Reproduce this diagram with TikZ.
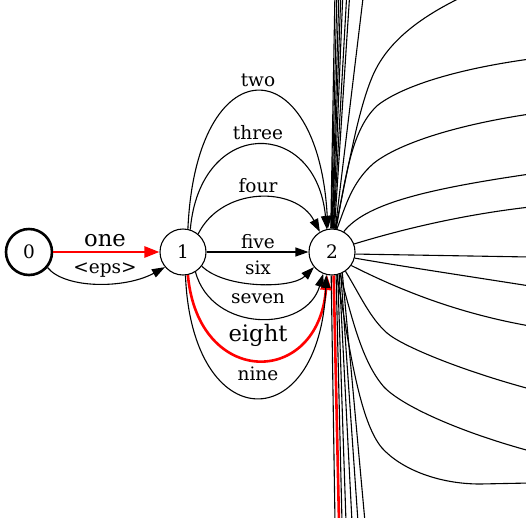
\documentclass[tikz,border=0pt]{standalone}
\usepackage{fontspec}
\setmainfont{DejaVu Serif}
\usetikzlibrary{arrows.meta}
\begin{document}
\begin{tikzpicture}[x=1pt,y=-1pt,
  st/.style={circle,draw,line width=1.1pt,minimum size=46pt,inner sep=0pt,font=\fontsize{18.5}{22}\selectfont},
  lbl/.style={font=\fontsize{18.5}{22}\selectfont,inner sep=0pt,anchor=base},
  biglbl/.style={font=\fontsize{22.7}{26}\selectfont,inner sep=0pt,anchor=base},
  arr/.style={line width=1.1pt,-{Triangle[length=13pt,width=9pt]}},
  redarr/.style={draw=red,line width=2.6pt,-{Triangle[length=15pt,width=11pt]}},
  outl/.style={line width=1.1pt},
  redout/.style={draw=red,line width=2.6pt}]
\useasboundingbox (0,0) rectangle (526,517);
\clip (0,0) rectangle (526,517);
% nodes
\node[st,line width=2.6pt] (n0) at (29,252) {0};
\node[st] (n1) at (183,252) {1};
\node[st] (n2) at (332,252) {2};
% labels
\node[biglbl] (lone) at (105,246.7) {one};
\node[lbl] (leps) at (105,273) {<eps>};
\node[lbl] (ltwo) at (258,86.7) {two};
\node[lbl] (lthree) at (258,139.3) {three};
\node[lbl] (lfour) at (258,192.3) {four};
\node[lbl] (lfive) at (258,248.3) {five};
\node[lbl] (lsix) at (258,274) {six};
\node[lbl] (lseven) at (258,303.3) {seven};
\node[biglbl] (leight) at (258,341.7) {eight};
\node[lbl] (lnine) at (258,380) {nine};
% outgoing from 2, off the picture
\coordinate (t1) at (335,-10);
\coordinate (t2) at (337,-10);
\coordinate (t3) at (339,-10);
\coordinate (t4) at (341,-10);
\coordinate (t5) at (343,-10);
\coordinate (t6) at (347,-10);
\coordinate (t7) at (350,-10);
\coordinate (t8) at (364,-10);
\draw[outl] (n2.93) -- (t1);
\draw[outl] (n2.92) -- (t2);
\draw[outl] (n2.90) -- (t3);
\draw[outl] (n2.89) -- (t4);
\draw[outl] (n2.87) -- (t5);
\draw[outl] (n2.86) -- (t6);
\draw[outl] (n2.84) -- (t7);
\draw[outl] (n2.82) -- (t8);
\coordinate (b1) at (335,522);
\coordinate (b2) at (339,522);
\coordinate (b3) at (342,522);
\coordinate (b4) at (346,522);
\coordinate (b5) at (352,522);
\coordinate (b6) at (358,522);
\coordinate (b7) at (365,522);
\draw[outl] (n2.-92) -- (b1);
\draw[outl] (n2.-80) -- (b3);
\draw[outl] (n2.-76) -- (b4);
\draw[outl] (n2.-72) -- (b5);
\draw[outl] (n2.-68) -- (b6);
\draw[outl] (n2.-64) -- (b7);
\draw[redout] (n2.-86) -- (b2);
\coordinate (rA) at (462,-3);
\coordinate (rB) at (530,59);
\coordinate (rC) at (530,114);
\coordinate (rD) at (530,174);
\coordinate (rE) at (530,207);
\coordinate (rF) at (530,257);
\coordinate (rG) at (530,286);
\coordinate (rH) at (530,326);
\coordinate (rI) at (530,389);
\coordinate (rJ) at (530,451);
\coordinate (rK) at (530,483);
\draw[outl] (n2.82) .. controls (350,160) and (358,110) .. (373,75) .. controls (385,48) and (410,22) .. (rA);
\draw[outl] (n2.80) .. controls (346,175) and (352,128) .. (378,105) .. controls (400,88) and (450,70) .. (rB);
\draw[outl] (n2.78) .. controls (346,205) and (352,182) .. (374,163) .. controls (397,145) and (450,126) .. (rC);
\draw[outl] (n2.60) .. controls (365,205) and (420,190) .. (rD);
\draw[outl] (n2.20) .. controls (400,230) and (460,215) .. (rE);
\draw[outl] (n2.-5) -- (rF);
\draw[outl] (n2.-15) .. controls (400,266) and (460,275) .. (rG);
\draw[outl] (n2.-35) .. controls (390,285) and (450,312) .. (rH);
\draw[outl] (n2.-55) .. controls (360,295) and (370,318) .. (387,333) .. controls (402,346) and (460,370) .. (rI);
\draw[outl] (n2.-70) .. controls (352,318) and (362,362) .. (384,387) .. controls (402,406) and (460,432) .. (rJ);
\draw[outl] (n2.-78) .. controls (350,352) and (360,422) .. (382,448) .. controls (402,470) and (440,484) .. (480,484) -- (rK);
% 0 -> 1
\draw[redarr] (n0) -- (n1);
\draw[arr] (n0.-40) .. controls (65,289) and (125,289) .. (n1.220);
% 1 -> 2
\draw[arr] (n1.78) .. controls (196,46) and (318,46) .. (n2.100);
\draw[arr] (n1.72) .. controls (200,117) and (316,117) .. (n2.103);
\draw[arr] (n1.50) .. controls (222,186) and (296,186) .. (n2.121);
\draw[arr] (n1) -- (n2);
\draw[arr] (n1.-37) .. controls (225,289) and (292,289) .. (n2.220);
\draw[arr] (n1.-58) .. controls (212,333) and (306,333) .. (n2.248);
\draw[redarr] (n1.-78) .. controls (198,388) and (318,388) .. (n2.258);
\draw[arr] (n1.-84) .. controls (192,438) and (320,438) .. (n2.256);
\end{tikzpicture}
\end{document}
